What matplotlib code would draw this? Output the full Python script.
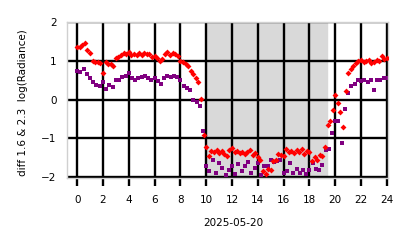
import matplotlib
matplotlib.use("Agg")
import matplotlib.pyplot as plt

# hours of 2025-05-20
red_t = [0.0, 0.2, 0.4, 0.6, 0.8, 1.0, 1.2, 1.4, 1.6, 1.8, 2.0, 2.2, 2.4, 2.6, 2.8,
         3.0, 3.2, 3.4, 3.6, 3.8, 4.0, 4.2, 4.4, 4.6, 4.8, 5.0, 5.2, 5.4, 5.6, 5.8,
         6.0, 6.2, 6.4, 6.6, 6.8, 7.0, 7.2, 7.4, 7.6, 7.8, 8.0, 8.2, 8.4, 8.6, 8.8,
         9.0, 9.2, 9.4, 9.6, 9.8, 10.0, 10.2, 10.4, 10.6, 10.8, 11.0, 11.2, 11.4, 11.6, 11.8,
         12.0, 12.2, 12.4, 12.6, 12.8, 13.0, 13.2, 13.4, 13.6, 13.8, 14.0, 14.2, 14.4, 14.6, 14.8,
         15.0, 15.2, 15.4, 15.6, 15.8, 16.0, 16.2, 16.4, 16.6, 16.8, 17.0, 17.2, 17.4, 17.6, 17.8,
         18.0, 18.2, 18.4, 18.6, 18.8, 19.0, 19.2, 19.4, 19.6, 19.8, 20.0, 20.2, 20.4, 20.6, 20.8,
         21.0, 21.2, 21.4, 21.6, 21.8, 22.0, 22.2, 22.4, 22.6, 22.8, 23.0, 23.2, 23.4, 23.6, 23.8,
         24.0]
red_v = [1.35, 1.37, 1.40, 1.45, 1.28, 1.20, 1.00, 0.97, 0.98, 0.95, 0.70, 0.97, 0.93, 0.92, 0.88,
         1.07, 1.10, 1.14, 1.20, 1.18, 1.22, 1.15, 1.18, 1.16, 1.20, 1.15, 1.20, 1.17, 1.18, 1.10,
         1.12, 1.08, 1.00, 1.06, 1.18, 1.22, 1.15, 1.20, 1.17, 1.12, 1.00, 0.96, 0.92, 0.86, 0.75,
         0.66, 0.56, 0.46, 0.02, -0.92, -1.22, -1.45, -1.32, -1.35, -1.30, -1.38, -1.33, -1.40, -1.45, -1.30,
         -1.25, -1.35, -1.32, -1.38, -1.34, -1.40, -1.35, -1.30, -1.42, -1.38, -1.48, -1.55, -1.85, -1.92, -1.78,
         -1.82, -1.58, -1.55, -1.40, -1.42, -1.45, -1.28, -1.35, -1.32, -1.38, -1.30, -1.36, -1.28, -1.40, -1.32,
         -1.35, -1.58, -1.48, -1.55, -1.42, -1.45, -1.22, -0.65, -0.55, -0.27, 0.13, -0.08, -0.32, -0.70, 0.22,
         0.68, 0.80, 0.88, 0.95, 1.00, 1.02, 0.98, 1.00, 1.03, 0.95, 0.98, 1.02, 1.00, 1.12, 1.05,
         1.08]

purple_t = [0.0, 0.25, 0.5, 0.75, 1.0, 1.25, 1.5, 1.75, 2.0, 2.25, 2.5, 2.75,
            3.0, 3.25, 3.5, 3.75, 4.0, 4.25, 4.5, 4.75, 5.0, 5.25, 5.5, 5.75,
            6.0, 6.25, 6.5, 6.75, 7.0, 7.25, 7.5, 7.75, 8.0, 8.25, 8.5, 8.75,
            9.0, 9.25, 9.5, 9.75, 10.0, 10.25, 10.5, 10.75, 11.0, 11.25, 11.5, 11.75,
            12.0, 12.25, 12.5, 12.75, 13.0, 13.25, 13.5, 13.75, 14.0, 14.25, 14.5, 14.75,
            15.0, 15.25, 15.5, 15.75, 16.0, 16.25, 16.5, 16.75, 17.0, 17.25, 17.5, 17.75,
            18.0, 18.25, 18.5, 18.75, 19.0, 19.25, 19.5, 19.75, 20.0, 20.25, 20.5, 20.75,
            21.0, 21.25, 21.5, 21.75, 22.0, 22.25, 22.5, 22.75, 23.0, 23.25, 23.5, 23.75,
            24.0]
purple_v = [0.75, 0.72, 0.80, 0.65, 0.55, 0.45, 0.38, 0.35, 0.45, 0.28, 0.38, 0.32,
            0.52, 0.50, 0.58, 0.62, 0.68, 0.55, 0.52, 0.55, 0.58, 0.62, 0.55, 0.50,
            0.55, 0.48, 0.40, 0.55, 0.60, 0.58, 0.60, 0.58, 0.50, 0.35, 0.30, 0.25,
            0.00, -0.05, -0.15, -0.80, -1.70, -1.85, -1.55, -1.90, -1.62, -1.75, -1.95, -1.80,
            -1.72, -1.92, -1.65, -1.85, -1.70, -1.60, -1.88, -1.75, -1.62, -1.95, -1.72, -1.70,
            -1.55, -1.60, -1.58, -1.55, -1.90, -1.85, -1.62, -1.90, -1.78, -1.88, -1.82, -1.92,
            -1.80, -1.62, -1.78, -1.80, -1.68, -1.30, -1.28, -0.85, -0.55, -0.55, -1.12, -0.25,
            0.16, 0.35, 0.40, 0.50, 0.48, 0.52, 0.45, 0.50, 0.25, 0.50, 0.52, 0.55,
            0.55]

night_start, night_end = 10.0, 19.35
x_ticks = [0, 2, 4, 6, 8, 10, 12, 14, 16, 18, 20, 22, 24]
y_ticks = [-2, -1, 0, 1, 2]

fig = plt.figure(figsize=(4.14, 2.48), dpi=100)
ax = fig.add_axes([0.162, 0.282, 0.775, 0.629])

ax.axvspan(night_start, night_end, color='#d9d9d9', zorder=0)
ax.plot(red_t, red_v, 'D', color='red', ms=3.0, mew=0, zorder=3)
ax.plot(purple_t, purple_v, 's', color='purple', ms=2.8, mew=0, zorder=2)

ax.set_xlim(-0.78, 24.08)
ax.set_ylim(-2.02, 2.0)
ax.set_xticks(x_ticks)
ax.set_yticks(y_ticks)
ax.grid(True, color='black', lw=1.7, zorder=1)
ax.set_axisbelow(True)
for s in ax.spines.values():
    s.set_color('#d0d0d0')
    s.set_linewidth(1.0)
ax.tick_params(axis='x', length=6, width=1.7, color='black', labelsize=7.5, pad=6.5)
ax.tick_params(axis='y', length=0, labelsize=7.5, pad=7.5)
ax.set_xlabel('2025-05-20', fontsize=7.5)
ax.set_ylabel('diff 1.6 & 2.3  log(Radiance)', fontsize=7.5)
ax.xaxis.set_label_coords(0.517, -0.255)
ax.yaxis.set_label_coords(-0.121, 0.485)

fig.savefig('out.png', dpi=100)
